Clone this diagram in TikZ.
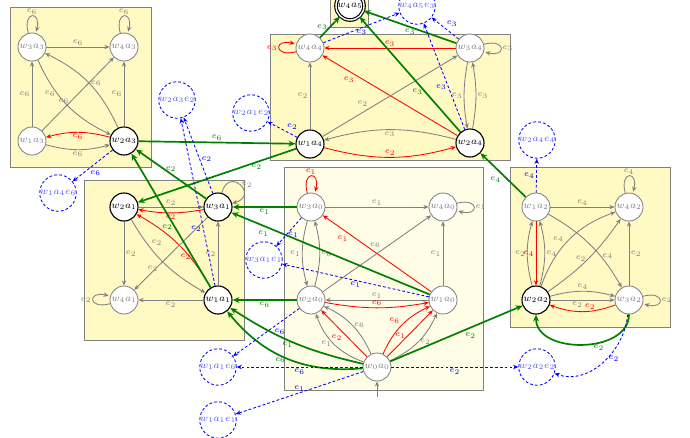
\documentclass[tikz,border=0pt]{standalone}
\usetikzlibrary{arrows.meta}
\definecolor{boxfill}{RGB}{255,249,196}
\definecolor{boxpale}{RGB}{255,253,229}
\definecolor{okgreen}{RGB}{0,128,0}

\begin{document}
\begin{tikzpicture}[x=0.025cm,y=0.025cm,
		>={Stealth[length=2.5pt 2,width=2pt 1.8]},
		box/.style={draw=gray,semithick},
		st/.style={circle,draw=gray,text=gray,semithick,fill=white,minimum size=0.7cm,inner sep=0pt,font=\scriptsize},
		live/.style={st,draw=black,text=black,thick},
		goal/.style={live,double,double distance=1pt},
		ghost/.style={circle,draw=blue,semithick,dash pattern=on 2pt off 1.5pt,text=blue!65,minimum size=0.9cm,inner sep=0pt,font=\scriptsize},
		pass/.style={->,gray,semithick},
		fault/.style={->,red,semithick},
		move/.style={->,okgreen,very thick},
		miss/.style={->,blue,semithick,dash pattern=on 2pt off 1.5pt}]
		\useasboundingbox (0,0) rectangle (690,-437);
		% boxes
		\draw[box,fill=boxfill] (10,-7) rectangle (151,-167);
		\draw[box,fill=boxfill] (330,10) rectangle (368,-27);
		\draw[box,fill=boxfill] (270,-34) rectangle (510,-160);
		\draw[box,fill=boxfill] (84,-180) rectangle (244,-340);
		\draw[box,fill=boxpale] (284,-167) rectangle (483,-390);
		\draw[box,fill=boxfill] (510,-167) rectangle (670,-327);
		% states
		\node[st] (w3a3) at (32,-47) {$w_3a_3$};
		\node[st] (w4a3) at (124,-47) {$w_4a_3$};
		\node[st] (w1a3) at (32,-141) {$w_1a_3$};
		\node[live] (w2a3) at (124,-141) {$w_2a_3$};
		\node[st] (w4a4) at (310,-48) {$w_4a_4$};
		\node[st] (w3a4) at (470,-48) {$w_3a_4$};
		\node[live] (w1a4) at (310,-144) {$w_1a_4$};
		\node[live] (w2a4) at (470,-143) {$w_2a_4$};
		\node[goal] (w4a5) at (350,-6) {$w_4a_5$};
		\node[live] (w2a1) at (124,-207) {$w_2a_1$};
		\node[live] (w3a1) at (218,-207) {$w_3a_1$};
		\node[st] (w4a1) at (124,-300) {$w_4a_1$};
		\node[live] (w1a1) at (218,-300) {$w_1a_1$};
		\node[st] (w3a0) at (311,-207) {$w_3a_0$};
		\node[st] (w4a0) at (443,-207) {$w_4a_0$};
		\node[st] (w2a0) at (311,-300) {$w_2a_0$};
		\node[st] (w1a0) at (443,-300) {$w_1a_0$};
		\node[st] (w0a0) at (377,-367) {$w_0a_0$};
		\node[st] (w1a2) at (536,-207) {$w_1a_2$};
		\node[st] (w4a2) at (629,-207) {$w_4a_2$};
		\node[live] (w2a2) at (536,-300) {$w_2a_2$};
		\node[st] (w3a2) at (629,-300) {$w_3a_2$};
		\coordinate (init) at (377,-397);
		% blocked copies
		\node[ghost] (w4a5e3) at (417,-6) {$w_4a_5e_3$};
		\node[ghost] (w2a3e2) at (177,-100) {$w_2a_3e_2$};
		\node[ghost] (w2a1e2) at (251,-113) {$w_2a_1e_2$};
		\node[ghost] (w1a4e6) at (58,-193) {$w_1a_4e_6$};
		\node[ghost] (w2a4e4) at (537,-140) {$w_2a_4e_4$};
		\node[ghost] (w3a1e1) at (264,-260) {$w_3a_1e_1$};
		\node[ghost] (w1a1e6) at (218,-367) {$w_1a_1e_6$};
		\node[ghost] (w1a1e1) at (218,-420) {$w_1a_1e_1$};
		\node[ghost] (w2a2e2) at (537,-367) {$w_2a_2e_2$};
		\begin{scope}[every node/.style={font=\fontsize{6}{7}\selectfont,inner sep=1pt}]
			% a3
			\path [pass] (w3a3) edge [loop above] node[above] {$e_6$} ();
			\path [pass] (w4a3) edge [loop above] node[above] {$e_6$} ();
			\path [pass] (w3a3) edge node[above] {$e_6$} (w4a3);
			\path [pass] (w1a3) edge node[left] {$e_6$} (w3a3);
			\path [pass] (w2a3) edge node[left] {$e_6$} (w4a3);
			\path [pass] (w1a3) edge node[pos=.4,left] {$e_6$} (w4a3);
			\path [pass] (w3a3) edge [bend right=20] node[pos=.35,left] {$e_6$} (w2a3);
			\path [pass] (w2a3) edge [bend right=20] node[right] {$e_6$} (w3a3);
			\path [pass] (w1a3) edge [bend right=15] node[below] {$e_6$} (w2a3);
			\path [fault] (w2a3) edge [bend right=15] node[below] {$e_6$} (w1a3);
			% a4
			\path [fault] (w4a4) edge [loop left] node[left] {$e_3$} ();
			\path [fault] (w3a4) edge node[above] {$e_3$} (w4a4);
			\path [fault] (w2a4) edge node[pos=.75,below left] {$e_3$} (w4a4);
			\path [pass] (w1a4) edge node[left] {$e_2$} (w4a4);
			\path [pass] (w1a4) edge node[pos=.35,above left] {$e_2$} (w3a4);
			\path [pass] (w2a4) edge [bend right=15] node[below] {$e_3$} (w1a4);
			\path [fault] (w1a4) edge [bend right=15] node[above] {$e_2$} (w2a4);
			\path [pass] (w3a4) edge [loop right] node[right] {$e_3$} ();
			\path [pass] (w3a4) edge [bend right=10] node[left] {$e_3$} (w2a4);
			\path [pass] (w2a4) edge [bend right=10] node[right] {$e_3$} (w3a4);
			\path [move] (w4a4) edge node[left] {$e_3$} (w4a5);
			\path [move] (w3a4) edge node[below] {$e_3$} (w4a5);
			\path [move] (w2a4) edge node[pos=.35,left] {$e_3$} (w4a5);
			\path [miss] (w4a4) edge node[below] {$e_3$} (w4a5e3);
			\path [miss] (w3a4) edge node[above right] {$e_3$} (w4a5e3);
			\path [miss] (w2a4) edge node[pos=.4,left] {$e_3$} (w4a5e3);
			% a1
			\path [pass] (w3a1) edge [out=75,in=15,every loop/.style={looseness=5,min distance=3mm},loop] node[right] {$e_2$} ();
			\path [pass] (w2a1) edge node[above] {$e_2$} (w3a1);
			\path [fault] (w3a1) edge [bend left=10] node[below] {$e_2$} (w2a1);
			\path [fault] (w1a1) edge [bend right=15] node[pos=.4,below] {$e_2$} (w2a1);
			\path [pass] (w2a1) edge node[right] {$e_2$} (w4a1);
			\path [pass] (w2a1) edge [bend right=15] node[pos=.3,above right] {$e_2$} (w1a1);
			\path [pass] (w3a1) edge node[pos=.65,below left] {$e_2$} (w4a1);
			\path [pass] (w1a1) edge node[left] {$e_2$} (w3a1);
			\path [pass] (w1a1) edge node[below] {$e_2$} (w4a1);
			\path [pass] (w4a1) edge [loop left] node[left] {$e_2$} ();
			% a0
			\path [pass] (init) edge (w0a0);
			\path [fault] (w3a0) edge [loop above] node[above] {$e_1$} ();
			\path [pass] (w3a0) edge node[above] {$e_1$} (w4a0);
			\path [pass] (w4a0) edge [loop right] node[right] {$e_1$} ();
			\path [pass] (w1a0) edge node[left] {$e_1$} (w4a0);
			\path [pass] (w2a0) edge node[pos=.55,above left] {$e_6$} (w4a0);
			\path [fault] (w1a0) edge node[pos=.75,below left] {$e_1$} (w3a0);
			\path [pass] (w3a0) edge [bend right=15] node[left] {$e_1$} (w2a0);
			\path [pass] (w2a0) edge [bend right=15] node[right] {$e_6$} (w3a0);
			\path [pass] (w1a0) edge node[above] {$e_1$} (w2a0);
			\path [fault] (w2a0) edge [bend right=10] node[above] {$e_6$} (w1a0);
			\path [pass] (w0a0) edge [bend left=25] node[left] {$e_1$} (w2a0);
			\path [fault] (w0a0) edge node[below left] {$e_2$} (w2a0);
			\path [pass] (w0a0) edge [bend right=20] node[right] {$e_6$} (w2a0);
			\path [fault] (w0a0) edge [bend left=20] node[above left] {$e_6$} (w1a0);
			\path [fault] (w0a0) edge node[pos=.45,left] {$e_1$} (w1a0);
			\path [pass] (w0a0) edge [bend right=20] node[right] {$e_2$} (w1a0);
			% a2
			\path [pass] (w1a2) edge node[above] {$e_4$} (w4a2);
			\path [pass] (w4a2) edge [loop above] node[above] {$e_4$} ();
			\path [pass] (w3a2) edge node[right] {$e_2$} (w4a2);
			\path [pass] (w1a2) edge [bend left=15] node[pos=.65,right] {$e_4$} (w3a2);
			\path [pass] (w2a2) edge [bend left=15] node[left] {$e_2$} (w1a2);
			\path [fault] (w1a2) edge node[left] {$e_4$} (w2a2);
			\path [pass] (w2a2) edge [bend right=15] node[right] {$e_4$} (w1a2);
			\path [pass] (w2a2) edge [bend left=25] node[pos=.45,above left] {$e_4$} (w4a2);
			\path [pass] (w2a2) edge [bend right=10] node[left] {$e_2$} (w4a2);
			\path [pass] (w2a2) edge [bend left=15] node[above] {$e_4$} (w3a2);
			\path [pass] (w2a2) edge node[pos=.42,below] {$e_2$} (w3a2);
			\path [fault] (w3a2) edge [bend left=20] node[pos=.38,above] {$e_2$} (w2a2);
			\path [pass] (w3a2) edge [loop right] node[right] {$e_2$} ();
			% moves between boxes
			\path [move] (w3a1) edge node[above] {$e_2$} (w2a3);
			\path [move] (w1a1) edge node[pos=.45,left] {$e_2$} (w2a3);
			\path [move] (w2a3) edge node[above] {$e_6$} (w1a4);
			\path [move] (w1a4) edge node[pos=.25,below] {$e_2$} (w2a1);
			\path [move] (w3a0) edge node[below] {$e_1$} (w3a1);
			\path [move] (w1a0) edge node[pos=.8,below left] {$e_1$} (w3a1);
			\path [move] (w2a0) edge node[below] {$e_6$} (w1a1);
			\path [move] (w0a0) edge [bend left=10] node[pos=.55,below] {$e_1$} (w1a1);
			\path [move] (w0a0) edge [bend left=28] node[pos=.55,below] {$e_6$} (w1a1);
			\path [move] (w0a0) edge node[pos=.55,below right] {$e_2$} (w2a2);
			\path [move] (w1a2) edge node[below left] {$e_4$} (w2a4);
			\path [move] (w3a2) edge [out=-90,in=-90,looseness=1.1] node[pos=.38,below] {$e_2$} (w2a2);
			% blocked events
			\path [miss] (w2a3) edge node[pos=.6,below right] {$e_6$} (w1a4e6);
			\path [miss] (w1a4) edge node[pos=.4,above right] {$e_2$} (w2a1e2);
			\path [miss] (w3a1) edge node[pos=.45,right] {$e_2$} (w2a3e2);
			\path [miss] (w1a1) edge node[pos=.34,left] {$e_2$} (w2a3e2);
			\path [miss] (w1a0) edge node[below] {$e_1$} (w3a1e1);
			\path [miss] (w3a0) edge node[pos=.6,right] {$e_1$} (w3a1e1);
			\path [miss] (w2a0) edge node[pos=.4,below right] {$e_6$} (w1a1e6);
			\path [miss] (w0a0) edge node[below] {$e_6$} (w1a1e6);
			\path [miss] (w0a0) edge node[above] {$e_1$} (w1a1e1);
			\path [miss] (w0a0) edge node[below] {$e_2$} (w2a2e2);
			\path [miss] (w3a2) edge [out=-95,in=-20] node[pos=.45,right] {$e_2$} (w2a2e2);
			\path [miss] (w1a2) edge node[left] {$e_4$} (w2a4e4);
		\end{scope}
	\end{tikzpicture}
\end{document}
